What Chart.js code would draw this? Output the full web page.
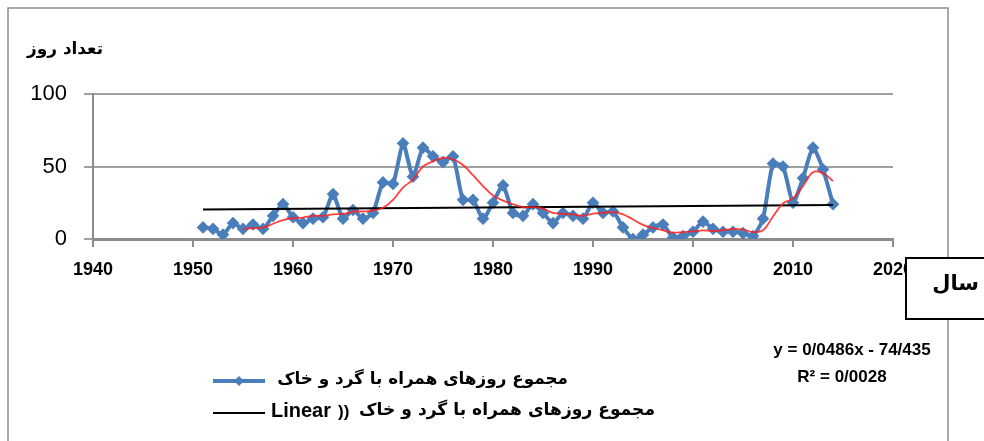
<!DOCTYPE html>
<html>
<head>
  <meta charset="UTF-8">
  <title>مجموع روزهای همراه با گرد و خاک</title>
  <script src="https://cdn.jsdelivr.net/npm/chart.js"></script>
  <style>
    body { margin: 0; background: #fff; }
  </style>
</head>
<body>
  <canvas id="dustChart" width="984" height="441"></canvas>
  <script>
    // annual data
    const years = [1951, 1952, 1953, 1954, 1955, 1956, 1957, 1958, 1959, 1960,
      1961, 1962, 1963, 1964, 1965, 1966, 1967, 1968, 1969, 1970,
      1971, 1972, 1973, 1974, 1975, 1976, 1977, 1978, 1979, 1980,
      1981, 1982, 1983, 1984, 1985, 1986, 1987, 1988, 1989, 1990,
      1991, 1992, 1993, 1994, 1995, 1996, 1997, 1998, 1999, 2000,
      2001, 2002, 2003, 2004, 2005, 2006, 2007, 2008, 2009, 2010,
      2011, 2012, 2013, 2014];
    const dustDays = [8, 7, 3, 11, 7, 10, 7, 16, 24, 15,
      11, 14, 15, 31, 14, 20, 14, 18, 39, 38,
      66, 43, 63, 57, 53, 57, 27, 27, 14, 25,
      37, 18, 16, 24, 18, 11, 18, 16, 14, 25,
      18, 19, 8, 0, 3, 8, 10, 1, 2, 5,
      12, 7, 5, 5, 4, 2, 14, 52, 50, 25,
      42, 63, 48, 24];

    // red smoothed curve
    const avgYears = [1955, 1956, 1957, 1958, 1959, 1960,
      1961, 1962, 1963, 1964, 1965, 1966, 1967, 1968, 1969, 1970,
      1971, 1972, 1973, 1974, 1975, 1976, 1977, 1978, 1979, 1980,
      1981, 1982, 1983, 1984, 1985, 1986, 1987, 1988, 1989, 1990,
      1991, 1992, 1993, 1994, 1995, 1996, 1997, 1998, 1999, 2000,
      2001, 2002, 2003, 2004, 2005, 2006, 2007, 2008, 2009, 2010,
      2011, 2012, 2013, 2014];
    const movingAvg = [7, 7.5, 7.8, 10.5, 13, 14.3,
      14.8, 16, 16, 17, 17.3, 18.8, 19, 19.5, 21.5, 27,
      35.5, 41, 50, 53.5, 56, 55, 51, 44, 36.5, 30,
      26.5, 24, 22, 22, 21, 18, 17.3, 17, 16, 17.5,
      18, 18.5, 17, 13.5, 9.7, 7.6, 6, 4.4, 4.8, 5.2,
      6, 5.4, 6.2, 6.8, 6.6, 4.8, 6, 15.5, 24.5, 28,
      36.5, 46, 45.5, 40];

    // linear trend end points
    const trendYears = [1951, 2014];
    const trendValues = [20.4, 23.4];

    const xTicks = [1940, 1950, 1960, 1970, 1980, 1990, 2000, 2010, 2020];
    const yTicks = [0, 50, 100];

    const seriesName = 'مجموع روزهای همراه با گرد و خاک';
    const yTitle = 'تعداد روز';
    const xTitle = 'سال';
    const eqLine = 'y = 0/0486x - 74/435';
    const r2Line = 'R² = 0/0028';

    const toPoints = (xs, ys) => xs.map((x, i) => ({ x: x, y: ys[i] }));

    function fitSize(ctx, text, weight, family, width) {
      ctx.font = weight + ' 20px ' + family;
      return 20 * width / ctx.measureText(text).width;
    }

    const extras = {
      id: 'extras',
      beforeDraw(chart) {
        const ctx = chart.ctx;
        ctx.save();
        ctx.fillStyle = '#fff';
        ctx.fillRect(0, 0, chart.width, chart.height);
        ctx.strokeStyle = '#8c8c8c';
        ctx.lineWidth = 1.5;
        ctx.strokeRect(8, 8, 940, 480);
        ctx.restore();
      },
      afterDraw(chart) {
        const ctx = chart.ctx;
        const ar = "'DejaVu Sans'";
        ctx.save();
        ctx.fillStyle = '#000';
        ctx.textBaseline = 'middle';

        // y title
        let s = fitSize(ctx, yTitle, 'bold', ar, 76);
        ctx.font = 'bold ' + s + 'px ' + ar;
        ctx.textAlign = 'right';
        ctx.fillText(yTitle, 103, 50);

        // legend row 1
        ctx.strokeStyle = '#4a7ebb';
        ctx.lineWidth = 4;
        ctx.beginPath();
        ctx.moveTo(213, 381);
        ctx.lineTo(265, 381);
        ctx.stroke();
        ctx.fillStyle = '#4a7ebb';
        ctx.beginPath();
        ctx.moveTo(239, 376); ctx.lineTo(244, 381); ctx.lineTo(239, 386); ctx.lineTo(234, 381);
        ctx.closePath();
        ctx.fill();
        ctx.fillStyle = '#000';
        s = fitSize(ctx, seriesName, 'bold', ar, 291);
        ctx.font = 'bold ' + s + 'px ' + ar;
        ctx.textAlign = 'right';
        ctx.fillText(seriesName, 568, 380);

        // legend row 2
        ctx.strokeStyle = '#000';
        ctx.lineWidth = 2;
        ctx.beginPath();
        ctx.moveTo(213, 413);
        ctx.lineTo(265, 413);
        ctx.stroke();
        s = fitSize(ctx, seriesName, 'bold', ar, 296);
        ctx.font = 'bold ' + s + 'px ' + ar;
        ctx.fillText(seriesName, 655, 411);
        ctx.textAlign = 'left';
        ctx.font = 'bold 17px "Liberation Sans"';
        ctx.fillText('))', 338, 412);
        s = fitSize(ctx, 'Linear', 'bold', '"Liberation Sans"', 60);
        ctx.font = 'bold ' + s + 'px "Liberation Sans"';
        ctx.fillText('Linear', 271, 411);

        // trend equation
        ctx.textAlign = 'center';
        ctx.font = 'bold 17px "Liberation Sans"';
        ctx.fillText(eqLine, 852, 350);
        ctx.fillText(r2Line, 842, 377);

        // x title box
        ctx.fillStyle = '#fff';
        ctx.fillRect(906, 258, 90, 61);
        ctx.strokeStyle = '#000';
        ctx.lineWidth = 2;
        ctx.strokeRect(906, 258, 90, 61);
        ctx.fillStyle = '#000';
        ctx.font = 'bold 21px ' + ar;
        ctx.textAlign = 'right';
        ctx.fillText(xTitle, 979, 285);
        ctx.restore();
      }
    };

    const ctx = document.getElementById('dustChart').getContext('2d');
    new Chart(ctx, {
      type: 'line',
      data: {
        datasets: [{
          label: 'moving average',
          data: toPoints(avgYears, movingAvg),
          borderColor: 'rgba(255, 30, 30, 0.85)',
          borderWidth: 1.8,
          pointRadius: 0,
          tension: 0.4,
          order: 0
        }, {
          label: 'Linear',
          data: toPoints(trendYears, trendValues),
          borderColor: '#000',
          borderWidth: 2,
          pointRadius: 0,
          order: 1
        }, {
          label: seriesName,
          data: toPoints(years, dustDays),
          borderColor: '#4a7ebb',
          backgroundColor: '#4a7ebb',
          borderWidth: 4,
          pointStyle: 'rectRot',
          pointRadius: 3.5,
          tension: 0.2,
          order: 2
        }]
      },
      options: {
        responsive: false,
        animation: false,
        devicePixelRatio: 1,
        layout: { padding: { left: 0, top: 94, right: 91, bottom: 0 } },
        plugins: {
          legend: { display: false },
          tooltip: { enabled: false }
        },
        scales: {
          x: {
            type: 'linear',
            min: 1940,
            max: 2020,
            afterBuildTicks: axis => { axis.ticks = xTicks.map(v => ({ value: v })); },
            afterFit: axis => { axis.height = 202; },
            ticks: {
              callback: v => String(v),
              color: '#000',
              padding: 12,
              maxRotation: 0,
              font: { family: 'Liberation Sans', size: 18, weight: 'bold' }
            },
            grid: { drawOnChartArea: false, tickLength: 8, color: '#8c8c8c', lineWidth: 2 },
            border: { color: '#8c8c8c', width: 3 }
          },
          y: {
            min: 0,
            max: 100,
            afterBuildTicks: axis => { axis.ticks = yTicks.map(v => ({ value: v })); },
            afterFit: axis => { axis.width = 93; },
            ticks: {
              color: '#000',
              padding: 17,
              font: { family: 'Liberation Sans', size: 22 }
            },
            grid: { color: '#a0a0a0', lineWidth: 2, tickLength: 9 },
            border: { color: '#8c8c8c', width: 2 }
          }
        }
      },
      plugins: [extras]
    });
  </script>
</body>
</html>
